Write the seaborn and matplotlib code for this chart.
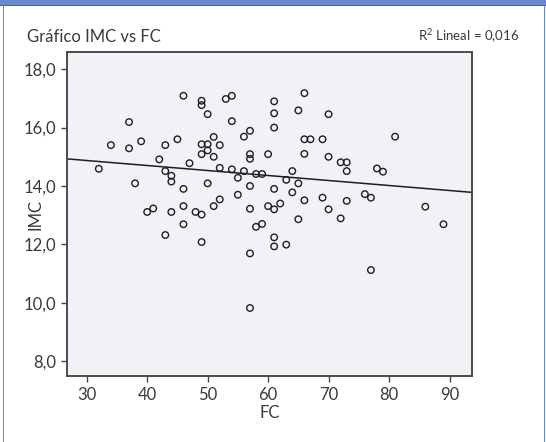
import numpy as np
import pandas as pd
import matplotlib
matplotlib.use("Agg")
import matplotlib.pyplot as plt
from matplotlib.patches import Rectangle
from matplotlib.ticker import FuncFormatter
import seaborn as sns

# FC (frecuencia cardiaca) and IMC values
FC = [32, 34, 37, 37, 38, 39, 40, 41, 42, 43,
      43, 43, 44, 44, 44, 45, 46, 46, 46, 46,
      47, 48, 49, 49, 49, 49, 49, 49, 50, 50,
      50, 50, 51, 51, 51, 52, 52, 52, 53, 54,
      54, 54, 55, 55, 56, 56, 57, 57, 57, 57,
      57, 57, 57, 58, 59, 58, 59, 60, 60, 61,
      61, 61, 61, 61, 61, 61, 62, 63, 63, 64,
      64, 65, 65, 65, 66, 66, 66, 66, 67, 69,
      69, 70, 70, 70, 72, 72, 73, 73, 73, 76,
      77, 77, 78, 79, 81, 86, 89]
IMC = [14.59, 15.40, 16.19, 15.29, 14.09, 15.53, 13.11, 13.23, 14.91, 14.51,
       12.32, 15.40, 14.35, 14.15, 13.11, 15.60, 17.09, 13.90, 13.31, 12.69,
       14.78, 13.11, 16.92, 16.77, 15.43, 15.09, 13.02, 12.08, 14.09, 16.46,
       15.43, 15.22, 15.68, 15.00, 13.31, 13.54, 15.40, 14.62, 16.98, 17.09,
       16.22, 14.57, 14.28, 13.70, 15.69, 14.51, 15.89, 15.09, 14.93, 14.00,
       13.22, 11.69, 9.82, 14.41, 14.41, 12.60, 12.70, 15.09, 13.31, 16.90,
       16.49, 16.00, 13.90, 13.20, 12.24, 11.93, 13.40, 14.21, 11.99, 14.51,
       13.78, 16.59, 14.09, 12.86, 17.18, 15.60, 15.10, 13.51, 15.60, 15.60,
       13.60, 15.00, 16.46, 13.20, 14.81, 12.89, 14.81, 14.51, 13.49, 13.72,
       13.60, 11.12, 14.60, 14.49, 15.69, 13.29, 12.69]

X_TICKS = [30, 40, 50, 60, 70, 80, 90]
Y_TICKS = [8, 10, 12, 14, 16, 18]

TITLE = "Gráfico IMC vs FC"
R2_TEXT = "R$^2$ Lineal = 0,016"

sns.set_style("white")
plt.rcParams['font.family'] = ['Lato', 'DejaVu Sans']
plt.rcParams['mathtext.fontset'] = 'custom'
plt.rcParams['mathtext.rm'] = 'Lato'

df = pd.DataFrame({"FC": FC, "IMC": IMC})

fig = plt.figure(figsize=(5.46, 4.42), dpi=100)
ax = fig.add_axes([67 / 546, 1 - 376 / 442, 405 / 546, 324 / 442])
ax.set_facecolor("#f1f2f5")

ax.set_xlim(26.74, 93.72)
ax.set_ylim(7.49, 18.59)

sns.scatterplot(data=df, x="FC", y="IMC", ax=ax, marker="o", s=22,
                facecolors="none", edgecolors="#1e1e1e", linewidth=1.0)
sns.regplot(data=df, x="FC", y="IMC", ax=ax, scatter=False, ci=None,
            truncate=False, line_kws=dict(color="#1e1e1e", lw=1.1))

ax.set_xlim(26.74, 93.72)
ax.set_ylim(7.49, 18.59)
ax.set_xticks(X_TICKS)
ax.set_yticks(Y_TICKS)
ax.yaxis.set_major_formatter(FuncFormatter(lambda v, p: ("%.1f" % v).replace(".", ",")))

txt_col = "#3a3a3a"
fs = 12
ax.tick_params(axis="both", direction="out", length=4, width=1, color="#444444",
               labelsize=fs, labelcolor=txt_col, pad=4)
ax.tick_params(top=False, right=False, left=True, bottom=True)
for side in ["left", "right", "top", "bottom"]:
    ax.spines[side].set_visible(True)
    ax.spines[side].set_color("#4a4a4a")
    ax.spines[side].set_linewidth(1.4)

ax.set_xlabel("FC", fontsize=fs, color=txt_col)
ax.set_ylabel("IMC", fontsize=fs, color=txt_col)
ax.xaxis.set_label_coords(0.5, -(413 - 376) / 324, transform=ax.transAxes)
ax.xaxis.label.set_va("center")
ax.yaxis.set_label_coords(-(67 - 35) / 405, 0.5, transform=ax.transAxes)
ax.yaxis.label.set_va("center")

fig.text(27 / 546, 1 - 36.5 / 442, TITLE, fontsize=fs, color=txt_col, va="center", ha="left")
fig.text(519 / 546, 1 - 36.5 / 442, R2_TEXT, fontsize=9.5, color=txt_col, va="center", ha="right")

# blue frame around the figure
fig.patches.append(Rectangle((0, 1 - 5 / 442), 1, 5 / 442, transform=fig.transFigure,
                             facecolor="#6d88c5", edgecolor="none"))
fig.patches.append(Rectangle((0, 1 - 6 / 442), 1, 1.2 / 442, transform=fig.transFigure,
                             facecolor="#3f62a8", edgecolor="none"))
fig.patches.append(Rectangle((3 / 546, 0), 1.3 / 546, 1 - 5 / 442, transform=fig.transFigure,
                             facecolor="#5a8bd0", edgecolor="none"))
fig.patches.append(Rectangle((544 / 546, 0), 1.3 / 546, 1 - 5 / 442, transform=fig.transFigure,
                             facecolor="#5a8bd0", edgecolor="none"))

fig.savefig("out.png", dpi=100)
